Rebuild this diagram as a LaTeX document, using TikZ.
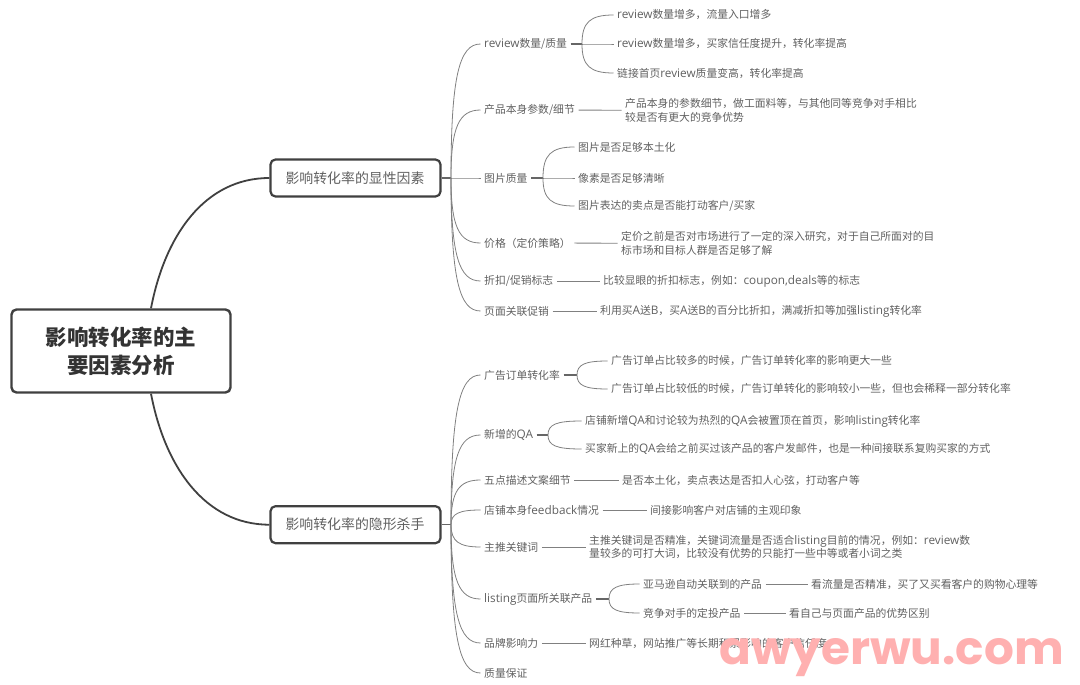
\documentclass[tikz,border=0pt]{standalone}
\usepackage{fontspec}
\setmainfont{Noto Sans CJK SC}
\newfontfamily\markfont{Poppins}
\newfontfamily\latinfont[Scale=1.09]{Open Sans}
\newcommand{\en}[1]{{\latinfont #1}}
\usetikzlibrary{calc}

\definecolor{boxline}{HTML}{404040}
\definecolor{twigline}{HTML}{808080}
\definecolor{leaftext}{HTML}{606060}
\definecolor{markpink}{HTML}{FFB0B0}

\tikzset{
  rootbox/.style={draw=boxline, line width=2.4pt, rounded corners=5pt, fill=white,
    minimum width=219pt, minimum height=83pt, align=center, text=black!80,
    font=\fontsize{21.5}{28}\selectfont\bfseries},
  sidebox/.style={draw=boxline, line width=2.2pt, rounded corners=5pt, fill=white,
    minimum width=170pt, minimum height=37pt, text=leaftext,
    font=\fontsize{13.9}{16}\selectfont},
  leaf/.style={anchor=west, inner xsep=3.5pt, inner ysep=1pt, align=left, text=leaftext,
    font=\fontsize{10.8}{13.5}\selectfont},
  bigtwig/.style={draw=boxline, line width=1.8pt},
  stub/.style={draw=boxline!80, line width=1.3pt},
  twig/.style={draw=twigline, line width=0.8pt}
}

% #1 = hub, #2 = node: leave the hub upright, arrive flat
\newcommand{\branch}[2]{%
  \draw[twig] (#1) .. controls ($(#1)!.75!(#1|-#2.west)$) and ($(#1|-#2.west)+(8,0)$) .. (#2.west);
}

\begin{document}
\begin{tikzpicture}[x=1pt,y=-1pt]
    \useasboundingbox (0,0) rectangle (1080,685);
    \node[rootbox] (rootnode) at (121,351) {影响转化率的主\\要因素分析};
    \node[sidebox] (shown) at (355.5,178) {\hspace{-1pt}影响转化率的显性因素};
    \node[sidebox] (hidden) at (355.5,524.7) {\hspace{-1pt}影响转化率的隐形杀手};
    \draw[bigtwig] ($(rootnode.north)+(30,0)$) .. controls (165,235) and (205,178) .. (shown.west);
    \draw[bigtwig] ($(rootnode.south)+(30,0)$) .. controls (165,467) and (205,524.7) .. (hidden.west);
    \coordinate (hubshown) at (451,178);
    \coordinate (hubhidden) at (451,524.7);
    \draw[stub] (shown.east) -- (hubshown);
    \draw[stub] (hidden.east) -- (hubhidden);
    % first level
    \foreach \nm/\py/\txt in {rev/44/{\en{review}数量/质量}, par/110/{产品本身参数/细节},
        pic/178/{图片质量}, pri/243/{价格（定价策略）}, dis/281/{折扣/促销标志}, pro/311/{页面关联促销}} {
      \node[leaf] (\nm) at (480.5,\py) {\txt};
      \branch{hubshown}{\nm}
    }
    \foreach \nm/\py/\txt in {ads/375/{广告订单转化率}, qas/435/{新增的\en{QA}}, fiv/480/{五点描述文案细节},
        fbk/510/{店铺本身\en{feedback}情况}, key/547/{主推关键词}, lis/599/{\en{listing}页面所关联产品},
        bra/643/{品牌影响力}, qua/673/{质量保证}} {
      \node[leaf] (\nm) at (480.5,\py) {\txt};
      \branch{hubhidden}{\nm}
    }
    % leaves hanging on a plain line
    \foreach \nm/\up/\px/\py/\txt in {
        parA/par/621.5/110.5/{产品本身的参数细节，做工面料等，与其他同等竞争对手相比\\较是否有更大的竞争优势},
        priA/pri/617.5/243.5/{定价之前是否对市场进行了一定的深入研究，对于自己所面对的目\\标市场和目标人群是否足够了解},
        disA/dis/599.5/281/{比较显眼的折扣标志，例如：\en{coupon,deals}等的标志},
        proA/pro/596.5/311/{利用买\en{A}送\en{B}，买\en{A}送\en{B}的百分比折扣，满减折扣等加强\en{listing}转化率},
        fivA/fiv/618.5/480/{是否本土化，卖点表达是否扣人心弦，打动客户等},
        fbkA/fbk/646.5/510/{间接影响客户对店铺的主观印象},
        keyA/key/585.5/547/{主推关键词是否精准，关键词流量是否适合\en{listing}目前的情况，例如：\en{review}数\\量较多的可打大词，比较没有优势的只能打一些中等或者小词之类},
        braA/bra/585.5/643/{网红种草，网站推广等长期积累影响的客户信任度}} {
      \node[leaf] (\nm) at (\px,\py) {\txt};
      \draw[twig] (\up) -- (\nm);
    }
    % leaves behind a hub
    \foreach \hb/\up/\hx/\hy in {hubrev/rev/582/44, hubpic/pic/543/178, hubads/ads/577/375,
        hubqas/qas/548/435, hublis/lis/609/599} {
      \coordinate (\hb) at (\hx,\hy);
      \draw[stub] (\up) -- (\hb);
    }
    \foreach \nm/\hb/\px/\py/\txt in {
        revA/hubrev/613.5/15/{\en{review}数量增多，流量入口增多},
        revB/hubrev/613.5/44/{\en{review}数量增多，买家信任度提升，转化率提高},
        revC/hubrev/613.5/73/{链接首页\en{review}质量变高，转化率提高},
        picA/hubpic/574.5/147/{图片是否足够本土化},
        picB/hubpic/574.5/178/{像素是否足够清晰},
        picC/hubpic/574.5/206/{图片表达的卖点是否能打动客户/买家},
        adsA/hubads/607.5/361/{广告订单占比较多的时候，广告订单转化率的影响更大一些},
        adsB/hubads/607.5/389/{广告订单占比较低的时候，广告订单转化的影响较小一些，但也会稀释一部分转化率},
        qasA/hubqas/581.5/421/{店铺新增\en{QA}和讨论较为热烈的\en{QA}会被置顶在首页，影响\en{listing}转化率},
        qasB/hubqas/581.5/449/{买家新上的\en{QA}会给之前买过该产品的客户发邮件，也是一种间接联系复购买家的方式},
        lisA/hublis/639.5/584/{亚马逊自动关联到的产品},
        lisB/hublis/639.5/613/{竞争对手的定投产品}} {
      \node[leaf] (\nm) at (\px,\py) {\txt};
      \branch{\hb}{\nm}
    }
    \node[leaf] (lisAA) at (807.5,584) {看流量是否精准，买了又买看客户的购物心理等};
    \node[leaf] (lisBA) at (785.5,613) {看自己与页面产品的优势区别};
    \draw[twig] (lisA) -- (lisAA);
    \draw[twig] (lisB) -- (lisBA);
    \node[anchor=base west, inner sep=0pt, text=markpink, xscale=1.02,
      font=\markfont\fontsize{46}{46}\selectfont\bfseries] (wmark) at (719,664) {awyerwu.com};
  \end{tikzpicture}
\end{document}
